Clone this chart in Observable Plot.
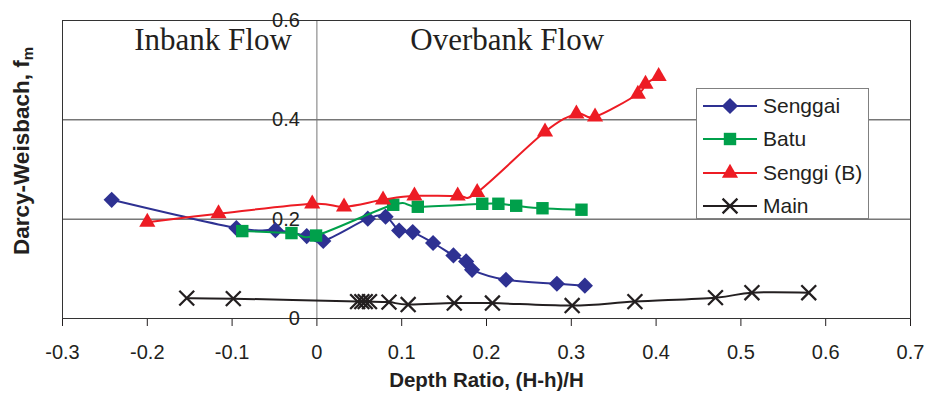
<!DOCTYPE html>
<html><head><meta charset="utf-8">
<script src="https://cdn.jsdelivr.net/npm/d3@7"></script>
<script src="https://cdn.jsdelivr.net/npm/@observablehq/plot@0.6"></script>
<style>
body{margin:0;background:#fff;}
#wrap{position:relative;width:927px;height:397px;font-family:"Liberation Sans",Arial,sans-serif;}
#legend{position:absolute;left:696px;top:88px;width:173px;height:131px;background:#fff;border:1px solid #808080;box-sizing:border-box;}
.lrow{position:absolute;left:0;height:24px;display:flex;align-items:center;}
.lrow span{font-size:21px;color:#231F20;margin-left:4px;}
#ylab{position:absolute;left:22px;top:151px;transform:translate(-50%,-50%) rotate(-90deg);white-space:nowrap;font-weight:bold;font-size:22.5px;color:#231F20;}
#ylab sub{font-size:15px;vertical-align:-4px;}
</style></head><body><div id="wrap"></div>
<script>
const seriesNames = ["Senggai", "Batu", "Senggi (B)", "Main"];

const senggaiX = [-0.242, -0.095, -0.049, -0.012, 0.0075, 0.060, 0.081, 0.097, 0.113, 0.137, 0.161, 0.176, 0.183, 0.223, 0.283, 0.316];
const senggaiY = [0.239, 0.182, 0.178, 0.166, 0.156, 0.201, 0.205, 0.177, 0.174, 0.152, 0.127, 0.115, 0.098, 0.078, 0.070, 0.066];

const batuX = [-0.088, -0.030, -0.001, 0.090, 0.119, 0.195, 0.214, 0.235, 0.266, 0.312];
const batuY = [0.176, 0.172, 0.167, 0.229, 0.225, 0.231, 0.231, 0.227, 0.222, 0.219];

const senggiBX = [-0.200, -0.116, -0.0055, 0.032, 0.078, 0.115, 0.166, 0.189, 0.269, 0.306, 0.328, 0.3785, 0.3875, 0.403];
const senggiBY = [0.194, 0.211, 0.231, 0.225, 0.239, 0.247, 0.247, 0.254, 0.376, 0.412, 0.406, 0.452, 0.472, 0.4875];

const mainX = [-0.1535, -0.0986, 0.048, 0.053, 0.057, 0.062, 0.085, 0.1076, 0.162, 0.207, 0.301, 0.375, 0.470, 0.513, 0.580];
const mainY = [0.041, 0.040, 0.034, 0.034, 0.034, 0.034, 0.033, 0.028, 0.031, 0.031, 0.026, 0.034, 0.042, 0.052, 0.052];

const xTicks = [-0.3, -0.2, -0.1, 0, 0.1, 0.2, 0.3, 0.4, 0.5, 0.6, 0.7];
const yTicks = [0, 0.2, 0.4, 0.6];
const gridY = [0.2, 0.4, 0.6];

const annotations = [
  {label: "Inbank Flow", x: -0.1225, y: 0.560},
  {label: "Overbank Flow", x: 0.2244, y: 0.560}
];
const xLabel = "Depth Ratio, (H-h)/H";
const yLabelMain = "Darcy-Weisbach, f";
const yLabelSub = "m";

const colors = ["#2E3192", "#00A04B", "#ED1C24", "#231F20"];
const symbols = ["diamond2", "square", "triangle", "times"];
const radii = [7.3, 7.0, 6.0, 6.8];

const xs = [senggaiX, batuX, senggiBX, mainX];
const ys = [senggaiY, batuY, senggiBY, mainY];
const seriesData = seriesNames.map((name, i) => xs[i].map((x, j) => ({series: name, x, y: ys[i][j]})));

const fmt = d => d === 0 ? "0" : d.toFixed(1);

const marks = [
  Plot.ruleY(gridY, {stroke: "#333", strokeWidth: 1}),
  Plot.ruleX([0], {stroke: "#777", strokeWidth: 1}),
  Plot.frame({stroke: "#333"}),
  Plot.text(yTicks, {x: 0, y: d => d, text: fmt, textAnchor: "end", dx: -17, fontSize: 20, fill: "#231F20"}),
  Plot.text(annotations, {x: "x", y: "y", text: "label", fontFamily: "Liberation Serif, Times New Roman, serif", fontSize: 31, fill: "#231F20"}),
  Plot.text([xLabel], {frameAnchor: "bottom", dy: 68, fontWeight: "bold", fontSize: 20.5, fill: "#231F20"})
];
seriesData.forEach((data, i) => {
  marks.push(Plot.line(data, {x: "x", y: "y", stroke: colors[i], strokeWidth: 2, curve: "cardinal"}));
  if (symbols[i] === "times") {
    marks.push(Plot.dot(data, {x: "x", y: "y", symbol: symbols[i], r: radii[i], stroke: colors[i], strokeWidth: 2.3, fill: "none"}));
  } else {
    marks.push(Plot.dot(data, {x: "x", y: "y", symbol: symbols[i], r: radii[i], fill: colors[i], stroke: "none"}));
  }
});

const chart = Plot.plot({
  width: 927,
  height: 397,
  marginLeft: 62,
  marginRight: 17,
  marginTop: 20,
  marginBottom: 79,
  style: {fontFamily: "Liberation Sans, Arial, sans-serif", fontSize: "20px", color: "#231F20", background: "#fff"},
  x: {domain: [-0.3, 0.7], ticks: xTicks, tickFormat: fmt, tickSize: 8, tickPadding: 18, label: null},
  y: {domain: [0, 0.6], axis: null},
  marks
});

const wrap = document.getElementById("wrap");
wrap.appendChild(chart);

// y-axis title with subscript
const ylab = document.createElement("div");
ylab.id = "ylab";
ylab.textContent = yLabelMain;
const sub = document.createElement("sub");
sub.textContent = yLabelSub;
ylab.appendChild(sub);
wrap.appendChild(ylab);

// legend
const legend = document.createElement("div");
legend.id = "legend";
wrap.appendChild(legend);
const rowCenters = [17, 50, 83.5, 116.5];
const symMap = {diamond2: d3.symbolDiamond2, square: d3.symbolSquare, triangle: d3.symbolTriangle, times: d3.symbolTimes};
seriesNames.forEach((name, i) => {
  const row = document.createElement("div");
  row.className = "lrow";
  row.style.top = (rowCenters[i] - 12) + "px";
  const svg = d3.create("svg").attr("width", 62).attr("height", 24);
  svg.append("line").attr("x1", 6).attr("x2", 60).attr("y1", 12).attr("y2", 12)
    .attr("stroke", colors[i]).attr("stroke-width", 2);
  const path = svg.append("path")
    .attr("transform", "translate(33,12)")
    .attr("d", d3.symbol(symMap[symbols[i]], Math.PI * radii[i] * radii[i])());
  if (symbols[i] === "times") path.attr("fill", "none").attr("stroke", colors[i]).attr("stroke-width", 2.3);
  else path.attr("fill", colors[i]);
  row.appendChild(svg.node());
  const sp = document.createElement("span");
  sp.textContent = name;
  row.appendChild(sp);
  legend.appendChild(row);
});
</script></body></html>
